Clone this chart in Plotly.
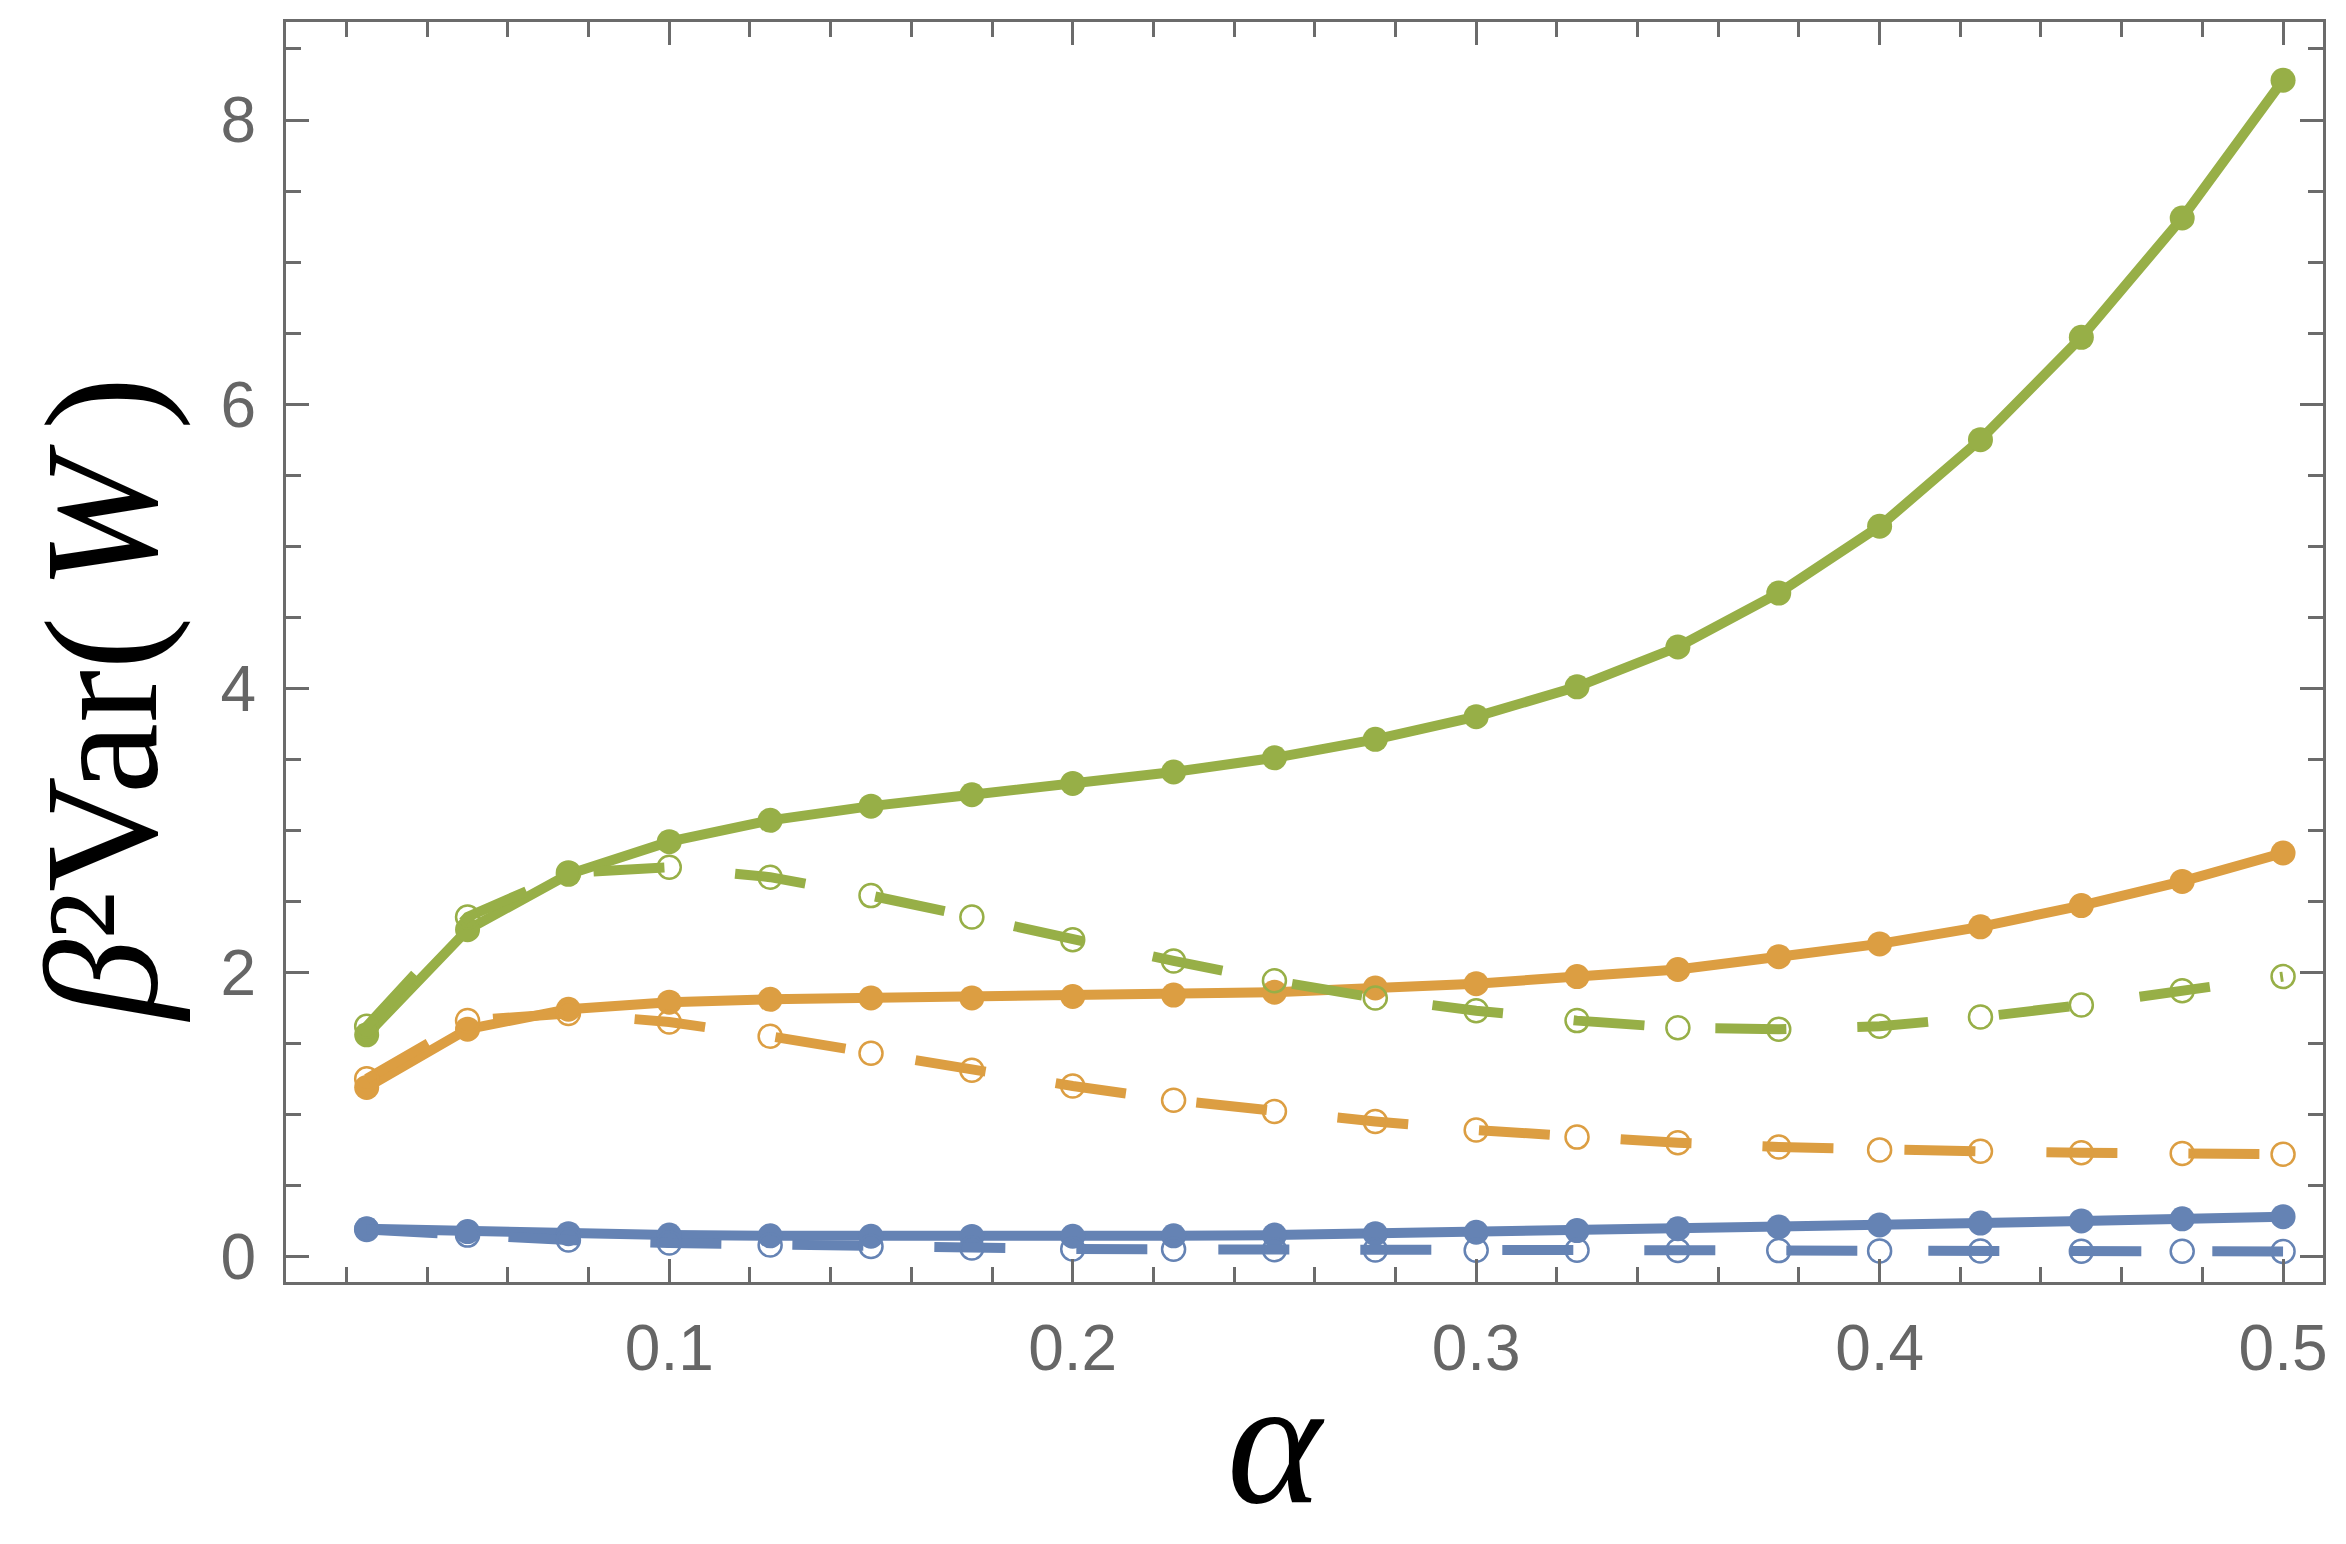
import plotly.graph_objects as go

# alpha values
alpha = [0.025, 0.05, 0.075, 0.1, 0.125, 0.15, 0.175, 0.2, 0.225, 0.25,
         0.275, 0.3, 0.325, 0.35, 0.375, 0.4, 0.425, 0.45, 0.475, 0.5]

# solid lines, filled markers
green_solid = [1.56, 2.30, 2.69, 2.92, 3.07, 3.17, 3.25, 3.33, 3.41, 3.51,
               3.64, 3.80, 4.01, 4.29, 4.67, 5.14, 5.75, 6.47, 7.31, 8.28]
orange_solid = [1.19, 1.60, 1.74, 1.79, 1.81, 1.82, 1.82, 1.83, 1.84, 1.86,
                1.89, 1.92, 1.97, 2.02, 2.11, 2.20, 2.32, 2.47, 2.64, 2.84]
blue_solid = [0.195, 0.175, 0.160, 0.150, 0.145, 0.142, 0.141, 0.142, 0.145, 0.150,
              0.160, 0.170, 0.182, 0.195, 0.207, 0.222, 0.235, 0.250, 0.265, 0.280]

# dashed lines, open markers
green_dashed = [1.62, 2.39, 2.70, 2.74, 2.67, 2.54, 2.39, 2.23, 2.08, 1.94,
                1.82, 1.73, 1.66, 1.61, 1.60, 1.62, 1.685, 1.77, 1.87, 1.97]
orange_dashed = [1.25, 1.66, 1.71, 1.65, 1.55, 1.43, 1.31, 1.20, 1.10, 1.02,
                 0.95, 0.89, 0.84, 0.80, 0.77, 0.75, 0.74, 0.73, 0.725, 0.72]
blue_dashed = [0.19, 0.15, 0.115, 0.095, 0.080, 0.070, 0.060, 0.052, 0.050, 0.047,
               0.045, 0.044, 0.043, 0.042, 0.041, 0.039, 0.038, 0.037, 0.036, 0.035]

BLUE = "#6583b4"
ORANGE = "#dc9e42"
GREEN = "#97af47"
AXIS = "#6b6b6b"

fig = go.Figure()

for ys, col in [(blue_solid, BLUE), (orange_solid, ORANGE), (green_solid, GREEN)]:
    fig.add_trace(go.Scatter(
        x=alpha, y=ys, mode="lines+markers",
        line=dict(color=col, width=10),
        marker=dict(color=col, size=25, symbol="circle"),
        showlegend=False,
    ))

for ys, col in [(blue_dashed, BLUE), (orange_dashed, ORANGE), (green_dashed, GREEN)]:
    fig.add_trace(go.Scatter(
        x=alpha, y=ys, mode="lines+markers",
        line=dict(color=col, width=10, dash="71px,71px"),
        marker=dict(color=col, size=23, symbol="circle-open", line=dict(width=2.5, color=col)),
        showlegend=False,
    ))

tickfont = dict(family="Liberation Sans, Arial, sans-serif", size=64, color="#666666")

fig.update_xaxes(
    range=[0.005, 0.5099], tick0=0, dtick=0.1,
    ticks="inside", ticklen=23, tickwidth=2.5, tickcolor=AXIS,
    minor=dict(dtick=0.02, tick0=0, ticks="inside", ticklen=15, tickwidth=2.5, tickcolor=AXIS),
    showline=True, linecolor=AXIS, linewidth=3, mirror="ticks",
    showgrid=False, zeroline=False, tickfont=tickfont, ticklabelstandoff=8,
)
fig.update_yaxes(
    range=[-0.18, 8.69], tick0=0, dtick=2,
    ticks="inside", ticklen=23, tickwidth=2.5, tickcolor=AXIS,
    minor=dict(dtick=0.5, tick0=0, ticks="inside", ticklen=15, tickwidth=2.5, tickcolor=AXIS),
    showline=True, linecolor=AXIS, linewidth=3, mirror="ticks",
    showgrid=False, zeroline=False, tickfont=tickfont, ticklabelstandoff=14,
)

serif = "Liberation Serif, Times New Roman, serif"
# thin spaces inside the parentheses, as in the typeset original
fig.add_annotation(
    text="<i>β</i>²Var(\u2006<i>W</i>\u2006)", xref="paper", yref="paper",
    x=-0.0905, y=0.462, xanchor="center", yanchor="middle", textangle=-90,
    showarrow=False, font=dict(family=serif, size=160, color="black"),
)
fig.add_annotation(
    text="<i>α</i>", xref="paper", yref="paper",
    x=0.486, y=-0.207, xanchor="center", yanchor="bottom",
    showarrow=False, font=dict(family=serif, size=180, color="black"),
)

# the page body adds 8px, so the figure is 8px smaller than the window
fig.update_layout(
    width=2338, height=1536,
    margin=dict(l=278, r=23, t=14, b=262),
    plot_bgcolor="white", paper_bgcolor="white",
)

fig.write_html("out.html")
